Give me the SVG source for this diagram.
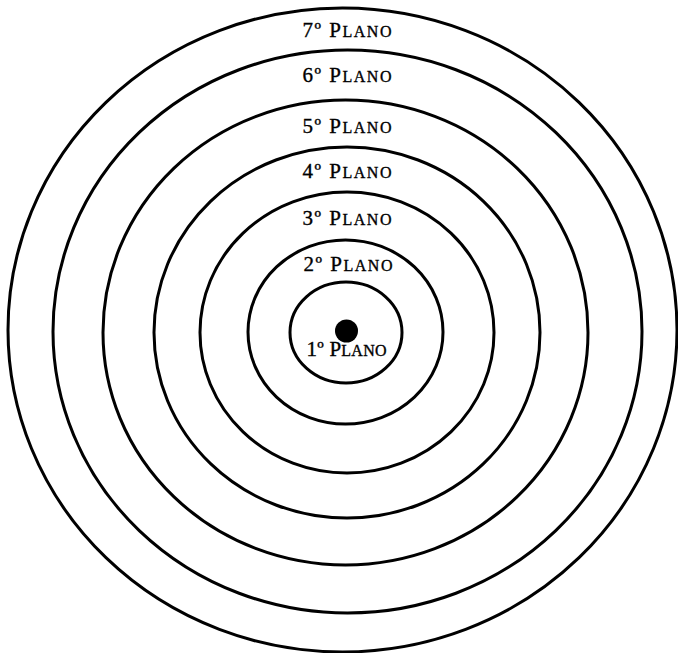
<svg xmlns="http://www.w3.org/2000/svg" width="678" height="653" viewBox="0 0 678 653">
<style>
.ring{fill:none;stroke:#000;stroke-width:3}
.lbl{font-family:"Liberation Serif","Times New Roman",serif;font-size:21px;fill:#000;stroke:#000;stroke-width:0.35;text-anchor:middle}
.sc{font-size:16px}
</style>
<rect width="678" height="653" fill="#fff"/>
<g id="plano7"><ellipse class="ring" cx="342.5" cy="330" rx="334.5" ry="322"/><text class="lbl" x="347" y="37" textLength="89" lengthAdjust="spacing">7º P<tspan class="sc">LANO</tspan></text></g>
<g id="plano6"><ellipse class="ring" cx="347.5" cy="331.5" rx="294.5" ry="281.5"/><text class="lbl" x="347" y="82" textLength="89" lengthAdjust="spacing">6º P<tspan class="sc">LANO</tspan></text></g>
<g id="plano5"><ellipse class="ring" cx="345.5" cy="332.5" rx="242.5" ry="232.5"/><text class="lbl" x="347" y="133" textLength="89" lengthAdjust="spacing">5º P<tspan class="sc">LANO</tspan></text></g>
<g id="plano4"><ellipse class="ring" cx="347" cy="332.5" rx="193" ry="185.5"/><text class="lbl" x="347" y="178" textLength="89" lengthAdjust="spacing">4º P<tspan class="sc">LANO</tspan></text></g>
<g id="plano3"><ellipse class="ring" cx="347" cy="332.5" rx="147" ry="140.5"/><text class="lbl" x="347" y="225" textLength="89" lengthAdjust="spacing">3º P<tspan class="sc">LANO</tspan></text></g>
<g id="plano2"><ellipse class="ring" cx="345.5" cy="332" rx="97.5" ry="92"/><text class="lbl" x="348" y="271" textLength="89" lengthAdjust="spacing">2º P<tspan class="sc">LANO</tspan></text></g>
<g id="plano1"><ellipse class="ring" cx="346" cy="332.5" rx="56" ry="50.5"/><circle cx="346.5" cy="331" r="11.5" fill="#000"/><text class="lbl" x="346.5" y="356" textLength="80" lengthAdjust="spacing">1º P<tspan class="sc">LANO</tspan></text></g>
<g id="connectors"/>
</svg>
